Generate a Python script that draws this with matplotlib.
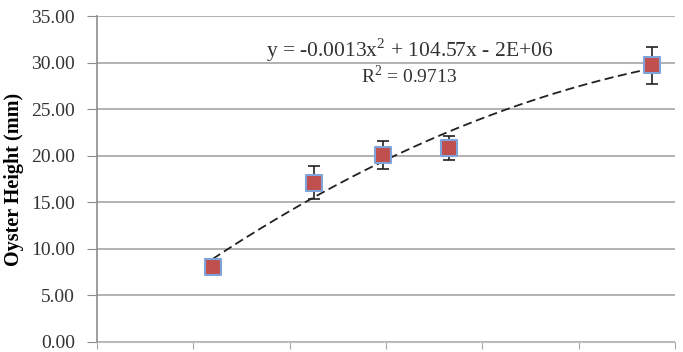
import matplotlib
matplotlib.use("Agg")
import matplotlib.pyplot as plt
import numpy as np

# data (x in days from axis origin; date labels not shown in the reference)
days = [60, 112.6, 148.4, 182.7, 288]
height = [8.1, 17.1, 20.1, 20.8, 29.7]
err = [0.4, 1.8, 1.5, 1.3, 2.0]
y_ticks = [0, 5, 10, 15, 20, 25, 30, 35]
x_ticks = [0, 50, 100, 150, 200, 250, 300]
eq_text = "y = -0.0013x$^2$ + 104.57x - 2E+06"
r2_text = "R$^2$ = 0.9713"

plt.rcParams['font.family'] = ['Liberation Serif', 'DejaVu Serif']
plt.rcParams['mathtext.fontset'] = 'custom'
plt.rcParams['mathtext.rm'] = 'Liberation Serif'

fig = plt.figure(figsize=(6.83, 3.52), dpi=100)
ax = fig.add_axes([97/683, 10/352, 578/683, 326/352])

ax.set_xlim(0, 300)
ax.set_ylim(0, 35)
ax.set_yticks(y_ticks)
ax.set_yticklabels([f"{v:.2f}" for v in y_ticks], fontsize=14, color='#333333')
ax.set_xticks(x_ticks)
ax.set_xticklabels([])
ax.grid(axis='y', color='#a6a6a6', linewidth=1.2)
ax.set_axisbelow(True)
for s in ['top', 'right']:
    ax.spines[s].set_visible(False)
ax.spines['left'].set_color('#8c8c8c')
ax.spines['left'].set_linewidth(1.2)
ax.spines['bottom'].set_color('#bfbfbf')
ax.tick_params(axis='y', length=7, color='#8c8c8c', pad=9)
ax.tick_params(axis='x', length=5, color='#a6a6a6')

# quadratic trendline
coef = np.polyfit(days, height, 2)
xs = np.linspace(days[0], days[-1], 200)
ax.plot(xs, np.polyval(coef, xs), color='#222222', linestyle=(0, (5, 2.5)), linewidth=1.3, zorder=3)

ax.errorbar(days, height, yerr=err, fmt='none', ecolor='#222222', elinewidth=1.2, capsize=4, capthick=1.2, zorder=4)
ax.scatter(days, height, marker='s', s=120, color='#c0504d', edgecolors='#7fa4d9', linewidths=1.5, zorder=5)

ax.text(0.54, 0.896, eq_text, transform=ax.transAxes, ha='center', va='center', fontsize=15.5, color='#333333')
ax.text(0.54, 0.816, r2_text, transform=ax.transAxes, ha='center', va='center', fontsize=14, color='#333333')

ax.set_ylabel("Oyster Height (mm)", fontsize=14.5, fontweight='bold', labelpad=5)

fig.savefig("out.png", dpi=100)
